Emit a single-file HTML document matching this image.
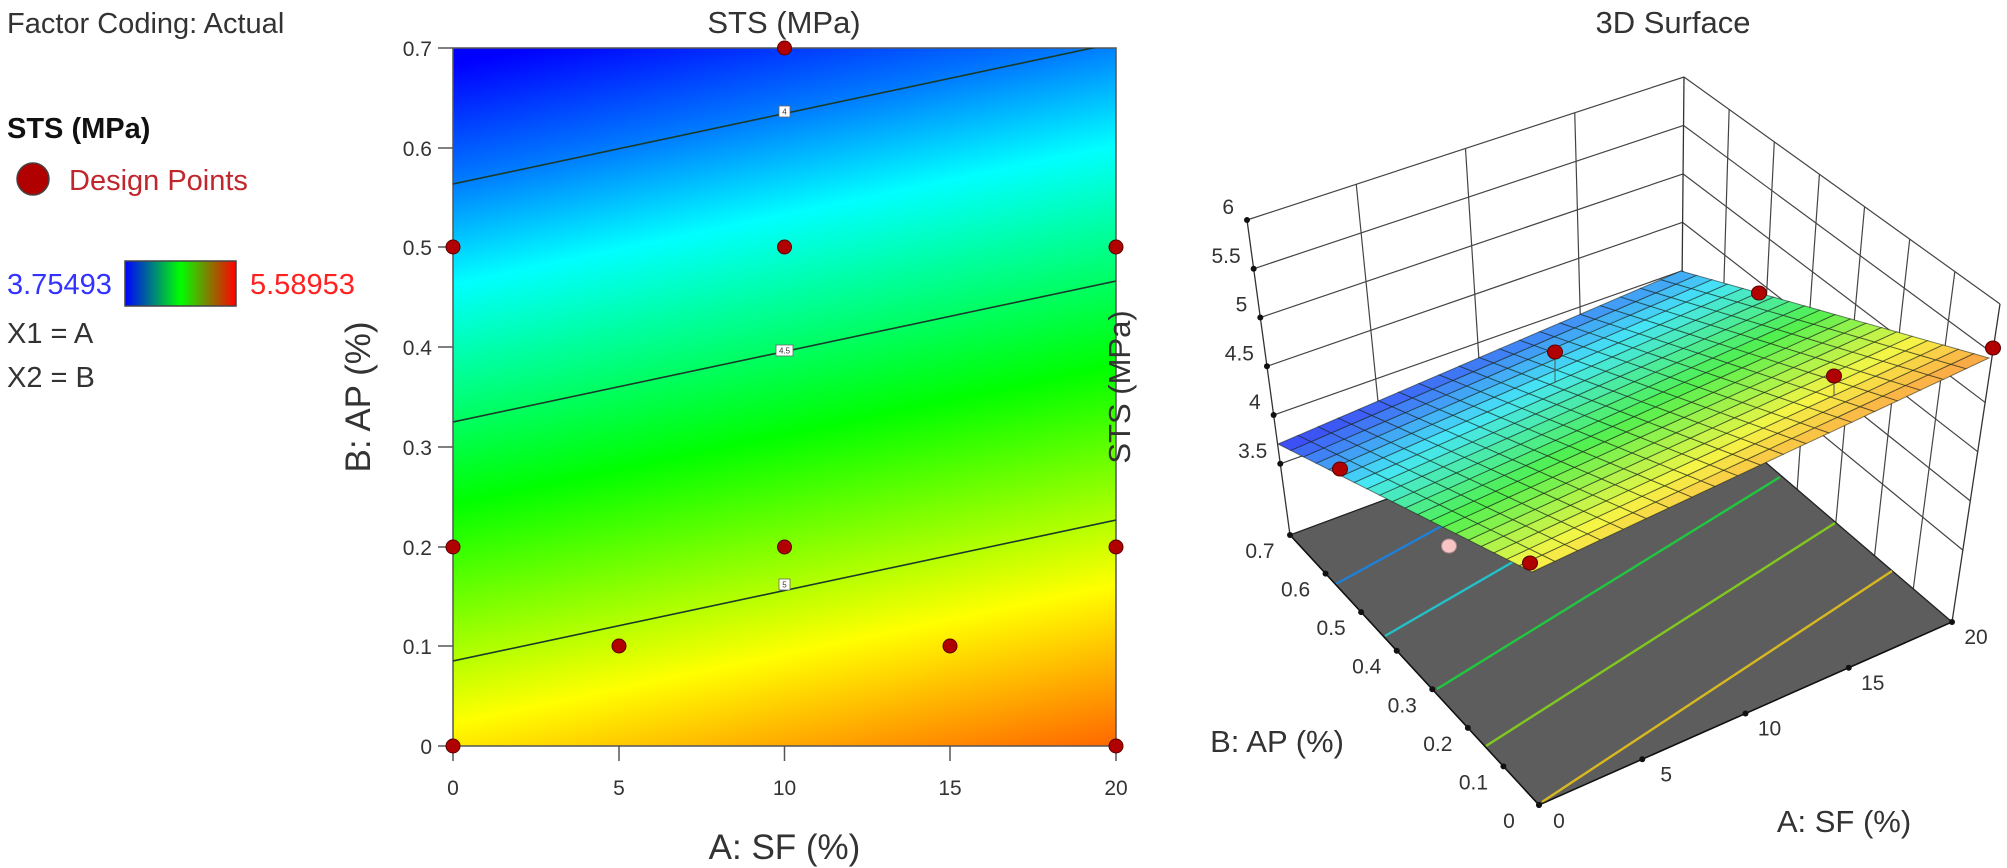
<!DOCTYPE html>
<html><head><meta charset="utf-8"><style>
html,body{margin:0;padding:0;background:#fff;width:2007px;height:868px;overflow:hidden}
svg{position:absolute;left:0;top:0}
text{font-family:"Liberation Sans",sans-serif}
</style></head><body>
<svg id="s" width="2007" height="868" viewBox="0 0 2007 868" xmlns="http://www.w3.org/2000/svg">
<defs>
<linearGradient id="cg" gradientUnits="userSpaceOnUse" x1="453" y1="65" x2="629" y2="906">
<stop offset="0" stop-color="#0000ff"/>
<stop offset="0.13" stop-color="#0078ff"/>
<stop offset="0.25" stop-color="#00ffff"/>
<stop offset="0.5" stop-color="#00ff00"/>
<stop offset="0.75" stop-color="#ffff00"/>
<stop offset="1" stop-color="#ff3000"/>
</linearGradient>
<linearGradient id="lg" x1="0" y1="0" x2="1" y2="0">
<stop offset="0" stop-color="#0000ff"/>
<stop offset="0.5" stop-color="#00ff00"/>
<stop offset="1" stop-color="#ff0000"/>
</linearGradient>
<clipPath id="pc"><rect x="453" y="48" width="663" height="698"/></clipPath>
</defs>

<!-- Left legend -->
<text x="7" y="33" font-size="29" fill="#333">Factor Coding: Actual</text>
<text x="7" y="138" font-size="29" font-weight="bold" fill="#111">STS (MPa)</text>
<circle cx="33" cy="179" r="16" fill="#b00000" stroke="#444" stroke-width="1.5"/>
<text x="69" y="190" font-size="29" fill="#c0272d">Design Points</text>
<text x="7" y="294" font-size="29" fill="#3333ff">3.75493</text>
<rect x="125" y="261" width="111" height="45" fill="url(#lg)" stroke="#444" stroke-width="1.5"/>
<text x="250" y="294" font-size="29" fill="#ff2020">5.58953</text>
<text x="7" y="343" font-size="29" fill="#333">X1 = A</text>
<text x="7" y="387" font-size="29" fill="#333">X2 = B</text>

<!-- Contour plot -->
<text x="784" y="33" font-size="31" fill="#333" text-anchor="middle">STS (MPa)</text>
<rect x="453" y="48" width="663" height="698" fill="url(#cg)" stroke="#555" stroke-width="1.5"/>
<g clip-path="url(#pc)" stroke="#1a3a2a" stroke-width="1.6" fill="none">
<line x1="453" y1="184" x2="1116" y2="43"/>
<line x1="453" y1="422" x2="1116" y2="281"/>
<line x1="453" y1="661" x2="1116" y2="520"/>
</g>
<g font-size="8" text-anchor="middle" fill="#333">
<rect x="779" y="106" width="11" height="11" fill="#fff" stroke="#666" stroke-width="0.8"/><text x="784.5" y="114.5">4</text>
<rect x="776" y="345" width="17" height="11" fill="#fff" stroke="#666" stroke-width="0.8"/><text x="784.5" y="353.5">4.5</text>
<rect x="779" y="579" width="11" height="11" fill="#fff" stroke="#666" stroke-width="0.8"/><text x="784.5" y="587.5">5</text>
</g>
<g stroke="#555" stroke-width="1.5">
<line x1="438" y1="746" x2="453" y2="746"/><line x1="438" y1="646" x2="453" y2="646"/><line x1="438" y1="547" x2="453" y2="547"/><line x1="438" y1="447" x2="453" y2="447"/><line x1="438" y1="347" x2="453" y2="347"/><line x1="438" y1="247" x2="453" y2="247"/><line x1="438" y1="148" x2="453" y2="148"/><line x1="438" y1="48" x2="453" y2="48"/>
<line x1="453" y1="746" x2="453" y2="761"/><line x1="619" y1="746" x2="619" y2="761"/><line x1="784.5" y1="746" x2="784.5" y2="761"/><line x1="950" y1="746" x2="950" y2="761"/><line x1="1116" y1="746" x2="1116" y2="761"/>
</g>
<g font-size="21" fill="#333" text-anchor="end">
<text x="432" y="754">0</text><text x="432" y="654">0.1</text><text x="432" y="555">0.2</text><text x="432" y="455">0.3</text><text x="432" y="355">0.4</text><text x="432" y="255">0.5</text><text x="432" y="156">0.6</text><text x="432" y="56">0.7</text>
</g>
<g font-size="21" fill="#333" text-anchor="middle">
<text x="453" y="795">0</text><text x="619" y="795">5</text><text x="784.5" y="795">10</text><text x="950" y="795">15</text><text x="1116" y="795">20</text>
</g>
<text x="784.5" y="859" font-size="35" fill="#333" text-anchor="middle">A: SF (%)</text>
<text transform="translate(370,397) rotate(-90)" font-size="35" fill="#333" text-anchor="middle">B: AP (%)</text>
<g fill="#b00000" stroke="#5a0000" stroke-width="1">
<circle cx="453" cy="746" r="7"/><circle cx="1116" cy="746" r="7"/>
<circle cx="453" cy="547" r="7"/><circle cx="1116" cy="547" r="7"/><circle cx="784.5" cy="547" r="7"/>
<circle cx="619" cy="646" r="7"/><circle cx="950" cy="646" r="7"/>
<circle cx="453" cy="247" r="7"/><circle cx="1116" cy="247" r="7"/><circle cx="784.5" cy="247" r="7"/>
<circle cx="784.5" cy="48" r="7"/>
</g>

<!-- 3D -->
<text x="1673" y="33" font-size="31" fill="#333" text-anchor="middle">3D Surface</text>
<text transform="translate(1130,387) rotate(-90)" font-size="31" fill="#333" text-anchor="middle">STS (MPa)</text>
<g id="g3"></g>
<text x="1277" y="752" font-size="31" fill="#333" text-anchor="middle">B: AP (%)</text>
<text x="1844" y="832" font-size="31" fill="#333" text-anchor="middle">A: SF (%)</text>
</svg>
<script>
(function(){
var NS="http://www.w3.org/2000/svg",g=document.getElementById("g3");
function el(t,a){var e=document.createElementNS(NS,t);for(var k in a)e.setAttribute(k,a[k]);g.appendChild(e);return e;}
function lerp(a,b,t){return [a[0]+(b[0]-a[0])*t,a[1]+(b[1]-a[1])*t];}
function line(p,q,c,w){el("line",{x1:p[0],y1:p[1],x2:q[0],y2:q[1],stroke:c||"#333",'stroke-width':w||1.3});}
var LT=[1247,220],L=[1290,535],KT=[1684,77],K=[1681,390],RT=[2000,304],R=[1952,622],F=[1539,805];
var zf=2.77;
function fz(z){return (6-z)/(6-zf);}
// walls
el("polygon",{points:[LT,KT,K,L].join(" "),fill:"#fff"});
el("polygon",{points:[KT,RT,R,K].join(" "),fill:"#fff"});
var zs=[6,5.5,5,4.5,4,3.5];
zs.forEach(function(z){var f=fz(z);var a=lerp(LT,L,f),b=lerp(KT,K,f),c=lerp(RT,R,f);line(a,b,"#444",1.2);line(b,c,"#444",1.2);});
for(var i=1;i<4;i++){var u=i/4;line(lerp(LT,KT,u),lerp(L,K,u),"#444",1.2);}
for(var i=1;i<7;i++){var u=i/7;line(lerp(KT,RT,u),lerp(K,R,u),"#444",1.2);}
line(LT,L,"#333",1.3);line(KT,K,"#333",1.3);line(RT,R,"#333",1.3);
// z ticks
zs.forEach(function(z){var p=lerp(LT,L,fz(z));el("circle",{cx:p[0],cy:p[1],r:3,fill:"#111"});
 var t=el("text",{x:p[0]-13,y:p[1]-6,'font-size':21,fill:"#333",'text-anchor':"end"});t.textContent=String(z);});
// floor
el("polygon",{points:[F,L,K,R].join(" "),fill:"#5d5d5d",stroke:"#222",'stroke-width':1.3});
var cl=[[[1336,584],[1460,516],"#1e80d8"],[[1385,636],[1530,552],"#22c0c8"],[[1437,689],[1780,477],"#20c840"],[[1486,746],[1835,523],"#80c820"],[[1542,802],[1892,571],"#d8b820"]];
cl.forEach(function(c){line(c[0],c[1],c[2],2.4);});
line(L,F,"#111",1.5);line(F,R,"#111",1.5);
// floor ticks
var bl=["0.7","0.6","0.5","0.4","0.3","0.2","0.1","0"];
for(var i=0;i<8;i++){var p=lerp(L,F,i/7);el("circle",{cx:p[0],cy:p[1],r:3,fill:"#111"});
 var t=el("text",{x:p[0]-30,y:p[1]+23,'font-size':21,fill:"#333",'text-anchor':"middle"});t.textContent=bl[i];}
var al=["0","5","10","15","20"];
for(var i=0;i<5;i++){var p=lerp(F,R,i/4);el("circle",{cx:p[0],cy:p[1],r:3,fill:"#111"});
 var t=el("text",{x:p[0]+(i==0?20:24),y:p[1]+(i==0?23:22),'font-size':21,fill:"#333",'text-anchor':"middle"});t.textContent=al[i];}
// surface
var SF=[1532,572],SL=[1278,444],SR=[1989,358],SK=[1681,271];
function P(u,v){return [SF[0]*(1-u)*(1-v)+SR[0]*u*(1-v)+SL[0]*(1-u)*v+SK[0]*u*v, SF[1]*(1-u)*(1-v)+SR[1]*u*(1-v)+SL[1]*(1-u)*v+SK[1]*u*v];}
var st=[[0,[60,70,245]],[0.25,[70,230,245]],[0.5,[80,240,80]],[0.75,[245,245,70]],[1,[255,130,70]]];
function col(t){t=Math.max(0,Math.min(1,t));for(var i=0;i<4;i++){if(t<=st[i+1][0]){var f=(t-st[i][0])/(st[i+1][0]-st[i][0]);var a=st[i][1],b=st[i+1][1];return "rgb("+[0,1,2].map(function(k){return Math.round(a[k]+(b[k]-a[k])*f);}).join(",")+")";}}return "rgb(255,130,70)";}
var N=20;
for(var i=0;i<N;i++)for(var j=0;j<N;j++){
 var u0=i/N,u1=(i+1)/N,v0=j/N,v1=(j+1)/N;
 var A=(u0+u1)/2*20,B=(v0+v1)/2*0.7;var z=5.19+0.014*A-2.08*B;
 el("polygon",{points:[P(u0,v0),P(u1,v0),P(u1,v1),P(u0,v1)].join(" "),fill:col((z-3.75)/1.84),stroke:"rgba(20,30,20,0.55)",'stroke-width':1});
}
// design points
line([1555,352],[1555,382],"#555",1);line([1834,376],[1834,396],"#555",1);line([1449,536],[1449,546],"#555",1);
[[1340,469],[1530,563],[1759,293],[1834,376],[1993,348],[1555,352]].forEach(function(p){el("ellipse",{cx:p[0],cy:p[1],rx:7.5,ry:7,fill:"#b00000",stroke:"#5a0000",'stroke-width':1});});
el("ellipse",{cx:1449,cy:546,rx:7.5,ry:7,fill:"#f8c4c4",stroke:"#a88",'stroke-width':1});
})();
</script>
</body></html>
